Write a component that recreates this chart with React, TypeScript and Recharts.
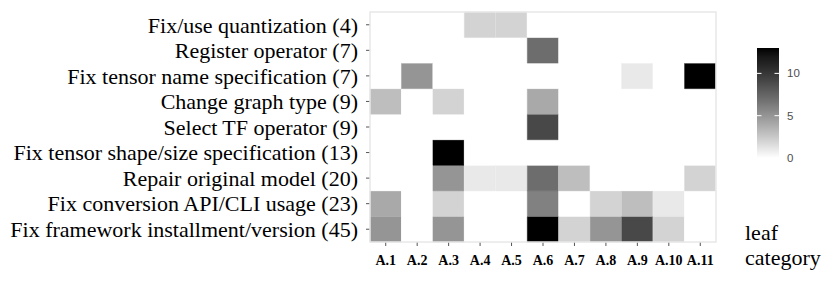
import React from 'react';
import { BarChart, Bar, XAxis, YAxis, Cell } from 'recharts';

const CATEGORIES = ['A.1', 'A.2', 'A.3', 'A.4', 'A.5', 'A.6', 'A.7', 'A.8', 'A.9', 'A.10', 'A.11'];

// rows listed bottom -> top
const ROW_LABELS = [
  'Fix framework installment/version (45)',
  'Fix conversion API/CLI usage (23)',
  'Repair original model (20)',
  'Fix tensor shape/size specification (13)',
  'Select TF operator (9)',
  'Change graph type (9)',
  'Fix tensor name specification  (7)',
  'Register operator (7)',
  'Fix/use quantization (4)',
];

const FRAMEWORK = [5, 0, 5, 0, 0, 13, 2, 5, 9, 2, 0];
const CONVERSION = [4, 0, 2, 0, 0, 6, 0, 2, 3, 1, 0];
const REPAIR = [0, 0, 5, 1, 1, 7, 3, 0, 0, 0, 2];
const SHAPE = [0, 0, 13, 0, 0, 0, 0, 0, 0, 0, 0];
const SELECT_OP = [0, 0, 0, 0, 0, 9, 0, 0, 0, 0, 0];
const GRAPH_TYPE = [3, 0, 2, 0, 0, 4, 0, 0, 0, 0, 0];
const TENSOR_NAME = [0, 5, 0, 0, 0, 0, 0, 0, 1, 0, 13];
const REGISTER = [0, 0, 0, 0, 0, 7, 0, 0, 0, 0, 0];
const QUANT = [0, 0, 0, 2, 2, 0, 0, 0, 0, 0, 0];

const ROWS = [FRAMEWORK, CONVERSION, REPAIR, SHAPE, SELECT_OP, GRAPH_TYPE, TENSOR_NAME, REGISTER, QUANT];

const MAX_VALUE = 13;
const LEGEND_TICKS = [0, 5, 10];

// white -> black, linear in lightness (like ggplot's gradient)
function shade(v: number) {
  const L = 100 * (1 - v / MAX_VALUE);
  const Y = L > 8 ? Math.pow((L + 16) / 116, 3) : L / 903.3;
  const c = Y <= 0.0031308 ? 12.92 * Y : 1.055 * Math.pow(Y, 1 / 2.4) - 0.055;
  const g = Math.max(0, Math.min(255, Math.round(c * 255)));
  return `rgb(${g},${g},${g})`;
}

const data = CATEGORIES.map((cat) => {
  const d: Record<string, string | number> = { cat };
  ROWS.forEach((_, i) => {
    d[`r${i}`] = 1;
  });
  return d;
});

const serif = 'Liberation Serif, Times New Roman, serif';

// legend geometry
const LG_X = 757;
const LG_W = 22;
const LG_TOP = 48;
const LG_BOTTOM = 158;
const legendY = (v: number) => LG_BOTTOM - (v / MAX_VALUE) * (LG_BOTTOM - LG_TOP);

export default function App() {
  return (
    <div style={{ position: 'absolute', left: 0, top: 0, width: 830, height: 289, background: '#fff' }}>
      <BarChart
        width={830}
        height={289}
        data={data}
        margin={{ top: 12, right: 114, left: 0, bottom: 0 }}
        barCategoryGap={0}
        barGap={0}
      >
        <XAxis
          dataKey="cat"
          height={47}
          axisLine={false}
          tickLine={{ stroke: '#555' }}
          tickSize={4}
          tickMargin={9}
          interval={0}
          tick={{ fill: '#000', fontSize: 14, fontWeight: 'bold', fontFamily: serif }}
        />
        <YAxis
          type="number"
          domain={[0, ROWS.length]}
          ticks={ROWS.map((_, i) => i + 0.5)}
          tickFormatter={(v: number) => ROW_LABELS[Math.round(v - 0.5)]}
          width={370}
          axisLine={false}
          tickLine={{ stroke: '#555' }}
          tickSize={4}
          tickMargin={8}
          interval={0}
          tick={{ fill: '#000', fontSize: 22, fontFamily: serif }}
        />
        {ROWS.map((vals, i) => (
          <Bar key={i} dataKey={`r${i}`} stackId="a" isAnimationActive={false}>
            {vals.map((v, c) => (
              <Cell key={c} fill={shade(v)} stroke={shade(v)} strokeWidth={0.4} />
            ))}
          </Bar>
        ))}
      </BarChart>
      <svg
        width={830}
        height={289}
        style={{ position: 'absolute', left: 0, top: 0, pointerEvents: 'none' }}
      >
        <defs>
          <linearGradient id="leafGrad" x1="0" y1="1" x2="0" y2="0">
            {Array.from({ length: MAX_VALUE + 1 }, (_, v) => (
              <stop key={v} offset={v / MAX_VALUE} stopColor={shade(v)} />
            ))}
          </linearGradient>
        </defs>
        <rect x={370} y={12} width={346} height={230} fill="none" stroke="#e8e8e8" strokeWidth={1.5} />
        <rect x={LG_X} y={LG_TOP} width={LG_W} height={LG_BOTTOM - LG_TOP} fill="url(#leafGrad)" />
        {LEGEND_TICKS.map((t) => (
          <g key={t}>
            {t > 0 && (
              <>
                <line x1={LG_X} x2={LG_X + 4.5} y1={legendY(t)} y2={legendY(t)} stroke="#fff" strokeWidth={1} />
                <line x1={LG_X + LG_W - 4.5} x2={LG_X + LG_W} y1={legendY(t)} y2={legendY(t)} stroke="#fff" strokeWidth={1} />
              </>
            )}
            <text
              x={787}
              y={legendY(t)}
              dominantBaseline="central"
              fontSize={11.5}
              fill="#4d4d4d"
              fontFamily="Liberation Sans, Arial, sans-serif"
            >
              {t}
            </text>
          </g>
        ))}
        <text x={745} y={240} fontSize={22} fontFamily={serif} fill="#000">leaf</text>
        <text x={745} y={265} fontSize={22} fontFamily={serif} fill="#000">category</text>
      </svg>
    </div>
  );
}
